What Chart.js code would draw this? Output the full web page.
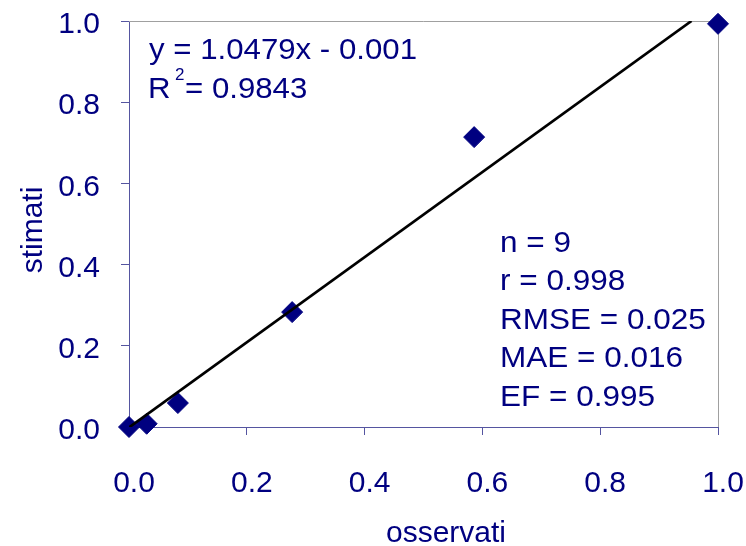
<!DOCTYPE html>
<html>
<head>
<meta charset="utf-8">
<script src="https://cdn.jsdelivr.net/npm/chart.js@4.4.0/dist/chart.umd.min.js"></script>
<style>
  html, body { margin: 0; padding: 0; background: #fff; }
  canvas { display: block; }
</style>
</head>
<body>
<canvas id="chart" width="746" height="546"></canvas>
<script>
// values
const observed  = [0.000, 0.030, 0.083, 0.277, 0.586, 1.000];
const estimated = [0.000, 0.008, 0.059, 0.283, 0.714, 0.993];

// regression line (y = 1.0479x - 0.001), its two end points
const trendX = [0.000, 0.955];
const trendY = [-0.001, 1.000];

const tickValues = [0, 0.2, 0.4, 0.6, 0.8, 1.0];
const tickLabels = ['0.0', '0.2', '0.4', '0.6', '0.8', '1.0'];

const xTitle = 'osservati';
const yTitle = 'stimati';
const fitEquation = 'y = 1.0479x - 0.001';
const r2Text = '= 0.9843';
const statLines = ['n = 9', 'r = 0.998', 'RMSE = 0.025', 'MAE = 0.016', 'EF = 0.995'];

const navy = '#000080';
const axisColor = '#5555a0';
const family = '"Liberation Sans", Arial, sans-serif';

function drawText(ctx, text, x, y, size, sx) {
    ctx.save();
    ctx.font = size + 'px ' + family;
    ctx.translate(x, y);
    ctx.scale(sx, 1);
    ctx.fillText(text, 0, 0);
    ctx.restore();
}

const decorations = {
    id: 'decorations',
    beforeDatasetsDraw(chart) {
        // grey top and right edges of the plot area
        const ctx = chart.ctx;
        const a = chart.chartArea;
        ctx.save();
        ctx.strokeStyle = '#a0a0a0';
        ctx.lineWidth = 1;
        ctx.beginPath();
        ctx.moveTo(a.left, Math.round(a.top) + 0.5);
        ctx.lineTo(Math.round(a.right) + 0.5, Math.round(a.top) + 0.5);
        ctx.lineTo(Math.round(a.right) + 0.5, a.bottom);
        ctx.stroke();
        ctx.restore();
    },
    afterDraw(chart) {
        const ctx = chart.ctx;
        ctx.save();
        ctx.fillStyle = navy;
        ctx.textAlign = 'left';
        ctx.textBaseline = 'alphabetic';

        drawText(ctx, fitEquation, 149, 59, 30, 1.04);
        drawText(ctx, 'R', 148, 98, 30, 1.04);
        drawText(ctx, '2', 175, 80, 17, 1.0);
        drawText(ctx, r2Text, 185, 98, 30, 1.04);

        let base = 252;
        statLines.forEach(line => {
            drawText(ctx, line, 500, base, 30, 1.05);
            base += 38.4;
        });

        // axis titles
        ctx.textAlign = 'center';
        ctx.font = '30px ' + family;
        ctx.fillText(xTitle, 446, 542);
        ctx.translate(42, 230);
        ctx.rotate(-Math.PI / 2);
        ctx.fillText(yTitle, 0, 0);
        ctx.restore();
    }
};

let points = observed.map((x, i) => ({ x: x, y: estimated[i] }));
let trend = trendX.map((x, i) => ({ x: x, y: trendY[i] }));

new Chart(document.getElementById('chart'), {
    type: 'scatter',
    data: {
        datasets: [{
            label: 'stimati',
            data: points,
            pointStyle: 'rectRot',
            pointRadius: 10.5,
            pointBackgroundColor: navy,
            pointBorderColor: navy,
            pointBorderWidth: 1,
            showLine: false,
            clip: false,
            order: 2
        }, {
            type: 'line',
            label: 'trend',
            data: trend,
            borderColor: '#000000',
            borderWidth: 2.75,
            pointRadius: 0,
            fill: false,
            order: 1
        }]
    },
    options: {
        responsive: false,
        animation: false,
        devicePixelRatio: 1,
        layout: { padding: { top: 21, right: 28, left: 0, bottom: 0 } },
        plugins: { legend: { display: false }, tooltip: { enabled: false } },
        scales: {
            x: {
                type: 'linear',
                min: 0,
                max: 1,
                afterBuildTicks: s => { s.ticks = tickValues.map(v => ({ value: v })); },
                afterFit: s => { s.height = 119; s.paddingLeft = 0; s.paddingRight = 0; },
                grid: { drawOnChartArea: false, drawTicks: true, tickLength: 8, color: axisColor },
                border: { color: axisColor, width: 1 },
                ticks: {
                    color: navy,
                    font: { family: family, size: 30 },
                    padding: 31,
                    labelOffset: 5,
                    maxRotation: 0,
                    autoSkip: false,
                    callback: (v, i) => tickLabels[i]
                }
            },
            y: {
                type: 'linear',
                min: 0,
                max: 1,
                afterBuildTicks: s => { s.ticks = tickValues.map(v => ({ value: v })); },
                afterFit: s => { s.width = 129; s.paddingTop = 0; s.paddingBottom = 0; },
                grid: { drawOnChartArea: false, drawTicks: true, tickLength: 8, color: axisColor },
                border: { color: axisColor, width: 1 },
                ticks: {
                    color: navy,
                    font: { family: family, size: 30 },
                    padding: 21,
                    labelOffset: 4,
                    autoSkip: false,
                    callback: (v, i) => tickLabels[i]
                }
            }
        }
    },
    plugins: [decorations]
});
</script>
</body>
</html>
